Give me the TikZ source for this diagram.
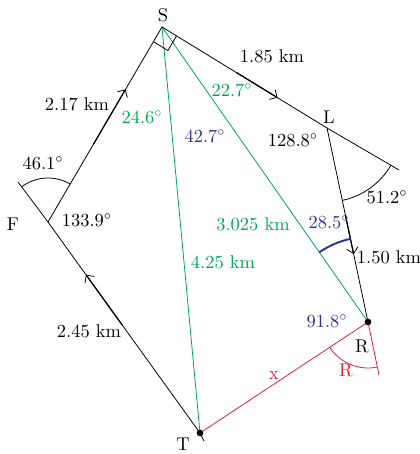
\documentclass[tikz,border=0pt]{standalone}
\usetikzlibrary{calc,angles,arrows.meta}
\definecolor{trajvert}{HTML}{00A651}
\definecolor{trajbleu}{HTML}{2E3192}
\definecolor{trajrouge}{HTML}{E0203A}
\begin{document}
\begin{tikzpicture}[x=0.02cm, y=0.02cm, line width=0.45pt,
  font=\fontsize{10.5}{12}\selectfont,
  vec/.style={line width=0.7pt, -{Straight Barb[length=3.2pt,width=6.5pt,line width=0.45pt]}},
  dot/.style={circle, fill, inner sep=0pt, minimum size=3.8pt}]
  \useasboundingbox (0,0) rectangle (420,454);
  % sommets du parcours
  \coordinate (S) at (162,427);
  \coordinate (L) at (327,326);
  \coordinate (R) at (368,132);
  \coordinate (T) at (200,21);
  \coordinate (F) at (48,232);
  \coordinate (Fext) at (18,272);
  \coordinate (Lext) at (399,284);
  \coordinate (Rext) at (379,79);
  \coordinate (Text) at (204,13);
  % diagonales et trajet cherche
  \draw[trajvert] (S) -- (T);
  \draw[trajvert] (S) -- (R);
  \draw[trajrouge] (T) -- (R) -- (Rext);
  % contour
  \draw (Text) -- (T) -- (F) -- (Fext);
  \draw (F) -- (S) -- (L) -- (R);
  \draw (L) -- (Lext);
  \draw[vec] ($(T)!0.51!(F)$) -- ($(T)!0.75!(F)$);
  \draw[vec] ($(F)!0.40!(S)$) -- ($(F)!0.68!(S)$);
  \draw[vec] ($(S)!0.45!(L)$) -- ($(S)!0.70!(L)$);
  \draw[vec] ($(L)!0.45!(R)$) -- ($(L)!0.65!(R)$);
  % angles
  \pic[draw, angle radius=0.34cm] {right angle=F--S--L};
  \pic[draw, angle radius=0.88cm] {angle=S--F--Fext};
  \pic[draw, angle radius=1.48cm] {angle=R--L--Lext};
  \pic[draw=trajbleu, line width=1.1pt, angle radius=1.7cm] {angle=L--R--S};
  \pic[draw=trajrouge, angle radius=0.92cm] {angle=T--R--Rext};
  \node[dot] (dotT) at (T) {};
  \node[dot] (dotR) at (R) {};
  % etiquettes
  \node (nS) at (163,439) {S};
  \node (nL) at (329,337) {L};
  \node (nF) at (13,230) {F};
  \node[inner sep=0.5pt] (nT) at (183,10) {T};
  \node (nR) at (362,108) {R};
  \node (dSF) at (77,350) {2.17 km};
  \node (dSL) at (272,398) {1.85 km};
  \node (dLR) at (389,197) {1.50 km};
  \node (dTF) at (89,123) {2.45 km};
  \node (aF1) at (43,291) {46.1$^\circ$};
  \node (aF2) at (87,234) {133.9$^\circ$};
  \node (aL1) at (293,314) {128.8$^\circ$};
  \node (aL2) at (387,257) {51.2$^\circ$};
  \begin{scope}[every node/.style={text=trajvert}]
    \node (aS1) at (142,337) {24.6$^\circ$};
    \node (aS2) at (232,364) {22.7$^\circ$};
    \node (dSR) at (253,230) {3.025 km};
    \node (dST) at (223,192) {4.25 km};
  \end{scope}
  \begin{scope}[every node/.style={text=trajbleu}]
    \node (aS3) at (205,318) {42.7$^\circ$};
    \node (aR1) at (329,232) {28.5$^\circ$};
    \node (aR2) at (327,133) {91.8$^\circ$};
  \end{scope}
  \begin{scope}[every node/.style={text=trajrouge}]
    \node (dTR) at (274,78) {x};
    \node (aR3) at (346,84) {R};
  \end{scope}
\end{tikzpicture}
\end{document}
